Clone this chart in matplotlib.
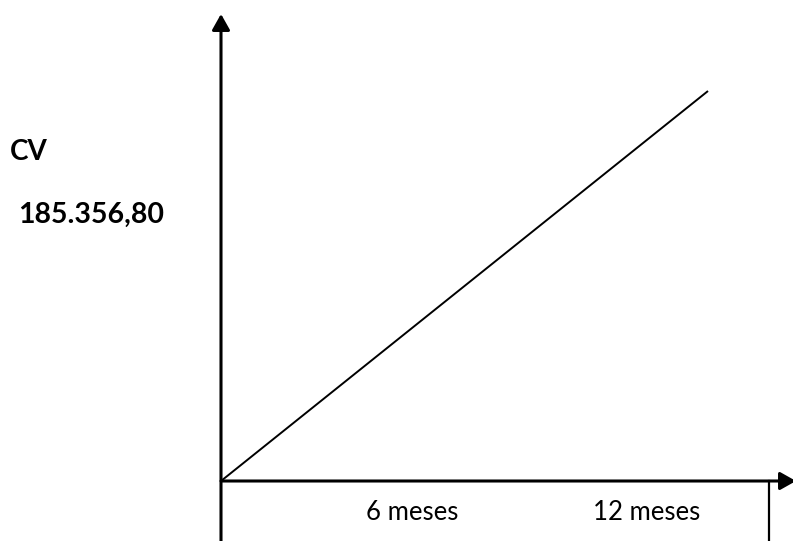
import matplotlib.pyplot as plt

# Datos del grafico (costo variable vs meses)
meses = [0, 12]
cv = [0, 185356.80]
etiquetas_x = ["6 meses", "12 meses"]
pos_etiquetas_x = [4.7, 10.5]
marca_final = 13.5
etiqueta_y = "CV"
valor_cv = "185.356,80"

plt.rcParams['font.family'] = ['Lato', 'DejaVu Sans']

fig = plt.figure(figsize=(7.93, 5.41), dpi=100)
W, H = 793, 541
x0, y0 = 221, 481          # origen en pixeles
x_tip, y_tip = 796, 14     # puntas de flecha
ax = fig.add_axes([x0 / W, (H - y0) / H, (x_tip - x0) / W, (y0 - y_tip) / H])

px_per_mes = (708 - x0) / meses[-1]
px_per_cv = (y0 - 91) / cv[-1]
ax.set_xlim(0, (x_tip - x0) / px_per_mes)
ax.set_ylim(0, (y0 - y_tip) / px_per_cv)
ax.axis('off')

# recta CV
ax.plot(meses, cv, color='black', lw=1.4, solid_capstyle='butt')

# ejes con flechas
flecha = dict(arrowstyle='-|>,head_length=0.8,head_width=0.45', color='black',
              lw=2.2, mutation_scale=12, shrinkA=0, shrinkB=0)
ax.annotate('', xy=(0, 1), xytext=(0, -(H - y0) / (y0 - y_tip)),
            xycoords='axes fraction', textcoords='axes fraction', arrowprops=flecha,
            annotation_clip=False)
ax.annotate('', xy=(1, 0), xytext=(0, 0),
            xycoords='axes fraction', textcoords='axes fraction', arrowprops=flecha,
            annotation_clip=False)

# marca vertical al final
ax.plot([marca_final, marca_final], [0, -(H - y0) / px_per_cv], color='black',
        lw=1.6, clip_on=False)

# etiquetas del eje x
for p, t in zip(pos_etiquetas_x, etiquetas_x):
    ax.text(p, -31 / px_per_cv, t, ha='center', va='center', fontsize=18.5)

# etiquetas del eje y
fig.text(10 / W, 1 - 152 / H, etiqueta_y, ha='left', va='center',
         fontsize=20, fontweight='bold')
fig.text(18 / W, 1 - 215 / H, valor_cv, ha='left', va='center',
         fontsize=20.5, fontweight='bold')

fig.savefig('out.png', dpi=100)
